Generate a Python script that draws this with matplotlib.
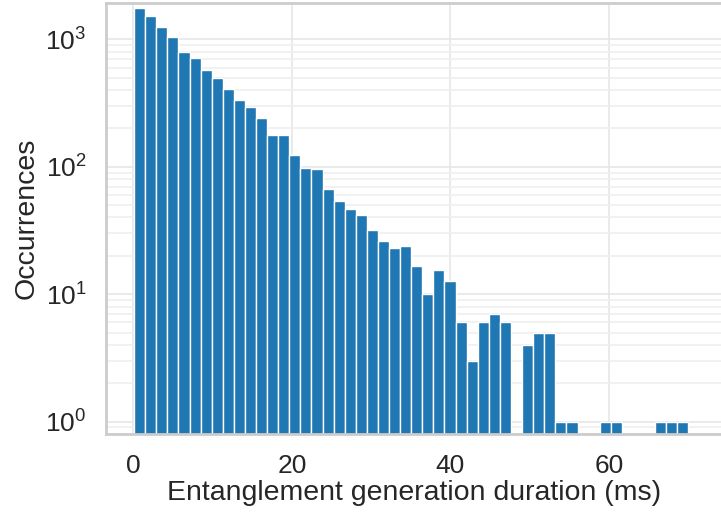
import numpy as np
import matplotlib
matplotlib.use("Agg")
import matplotlib.pyplot as plt
import seaborn as sns

# ============ Data ============
bin_lo, bin_hi, n_bins = 0.1, 70.0, 50
counts = [1758, 1538, 1248, 1052, 798, 720, 579, 499, 411, 335,
          294, 241, 178, 178, 124, 97, 96, 67, 54, 47,
          42, 32, 26, 23, 24, 16.5, 10, 15.4, 12.6, 6,
          3, 6, 7, 6, 0, 4, 5, 5, 1, 1,
          0, 0, 1, 1, 0, 0, 0, 1, 1, 1]

xlabel = "Entanglement generation duration (ms)"
ylabel = "Occurrences"

# ============ Style ============
sns.set_theme(style="whitegrid", context="talk")
plt.rcParams["font.family"] = ["Liberation Sans", "DejaVu Sans"]
plt.rcParams["axes.edgecolor"] = "#cccccc"
plt.rcParams["axes.linewidth"] = 2.0
plt.rcParams["grid.color"] = "#ebebeb"

edges = np.linspace(bin_lo, bin_hi, n_bins + 1)
centers = (edges[:-1] + edges[1:]) / 2

fig = plt.figure(figsize=(7.21, 5.2), dpi=100)
ax = fig.add_axes([0.147, 0.165, 0.855, 0.83])

ax.hist(centers, bins=edges, weights=counts, log=True,
        color="#1f77b4", edgecolor="white", linewidth=1.0)

ax.set_yscale("log")
ax.set_ylim(0.796, 1945)
ax.set_xlim(-3.45, 74.3)
ax.set_xticks([0, 20, 40, 60])
ax.grid(True, which="major", color="#e6e6e6", linewidth=1.2)
ax.grid(True, which="minor", axis="y", color="#efefef", linewidth=1.2)
ax.tick_params(axis="both", which="major", labelsize=19, pad=5)
ax.tick_params(axis="y", which="minor", left=False)
for s in ax.spines.values():
    s.set_color("#cccccc")
    s.set_linewidth(2.0)

ax.set_xlabel(xlabel, fontsize=20.5, labelpad=2)
ax.set_ylabel(ylabel, fontsize=20.5, labelpad=4)

fig.savefig("out.png", dpi=100)
